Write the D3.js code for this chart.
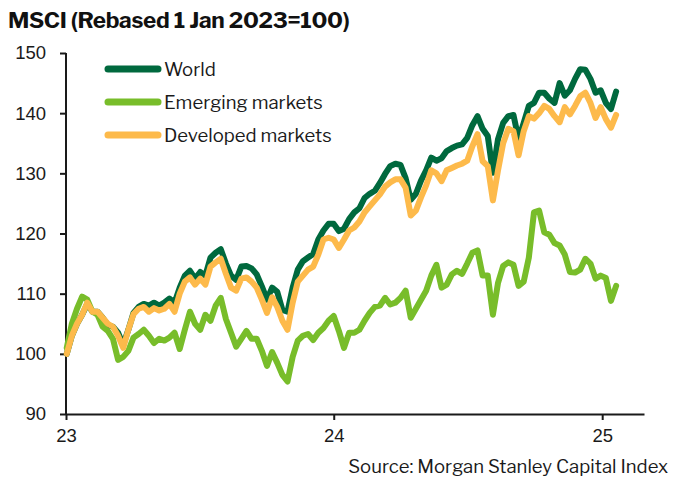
<!DOCTYPE html>
<html>
<head>
<meta charset="utf-8">
<script src="https://cdn.jsdelivr.net/npm/d3@7"></script>
<style>
    body { margin: 0; background: #fff; }
    svg { display: block; font-family: 'Libre Franklin', 'Roboto', sans-serif; }
</style>
</head>
<body>
<div id="chart"></div>
<script>
// weekly readings, Mondays from 2 Jan 2023 to 20 Jan 2025
const startDate = new Date(2023, 0, 2);
const endDate = new Date(2025, 0, 21);

const seriesNames = ['World', 'Emerging markets', 'Developed markets'];
const seriesColors = ['#00693e', '#78bd2a', '#fdba4b'];

const world = [
    100, 103, 105, 106.5, 108.3, 107, 107, 106, 104.8, 104.5,
    103.5, 101.5, 104, 106.8, 107.8, 108.3, 108, 108.5, 108, 108.5,
    109.2, 108.5, 111, 113, 113.8, 112.5, 113.6, 113, 116, 116.8,
    117.4, 115, 113, 112.3, 114.5, 114.6, 114.2, 113.2, 111.2, 109,
    111, 110.3, 107.3, 107, 111, 114, 115.4, 116, 116.6, 119,
    120.5, 121.6, 121.6, 120.4, 120.8, 122.4, 123.5, 124.2, 125.9, 126.6,
    127.1, 128.4, 129.9, 131.2, 131.6, 131.4, 129.2, 125.6, 126.6, 128.8,
    130.5, 132.6, 132.1, 132.5, 133.7, 134.2, 134.6, 134.8, 135.9, 138,
    139.5, 137.4, 136.2, 130.1, 135.7, 138.4, 139.5, 139.7, 135.7, 138.4,
    141.2, 141.7, 143.4, 143.4, 142.4, 141.7, 145, 142.9, 143.8, 145.7,
    147.3, 147.2, 145.7, 143.4, 143.8, 141.7, 140.7, 143.6
];

const emerging = [
    101, 105, 107.5, 109.5, 109, 107, 106.5, 104.5, 103.8, 102.5,
    99, 99.5, 100.5, 102.7, 103.3, 104, 103, 101.8, 102.5, 102.2,
    102.7, 103.5, 100.8, 104, 107, 105, 104, 106.5, 105.5, 108,
    109.3, 105.8, 103.5, 101.2, 102.5, 103.8, 102.5, 102.5, 100.5, 98,
    100.3, 98.5, 96.5, 95.4, 99.5, 102.2, 103, 103.3, 102.3, 103.5,
    104.3, 105.5, 106.3, 103.8, 101, 103.5, 103.5, 104, 105.5, 106.8,
    107.8, 108, 109.3, 108.2, 108.5, 109.3, 110.5, 106, 107.5, 109,
    110.5, 113, 114.8, 111, 111.5, 113.2, 113.8, 113.3, 115, 116.8,
    117.2, 113, 113, 106.5, 111.8, 114.6, 115.2, 114.8, 111.3, 112,
    116, 123.5, 123.8, 120.2, 119.8, 118.4, 118, 116.5, 113.6, 113.5,
    114, 115.8, 115, 112.5, 113, 112.6, 108.8, 111.3
];

const developed = [
    100, 103, 105, 106.5, 108.5, 107, 107, 106, 105, 104.5,
    103, 101, 104, 106.6, 107.5, 107.8, 107, 107.6, 107.2, 107.5,
    108.3, 107, 110, 112, 112.7, 111.5, 112.5, 111.5, 114.5, 115.2,
    115.8, 113.3, 111, 110.5, 112.5, 112.7, 112, 111, 109, 106.8,
    109.4, 107.8, 105.5, 104, 108.5, 112, 113, 114, 114.5, 116.5,
    119, 119.3, 119, 117.6, 119, 120.5, 121, 122, 123.5, 124.5,
    125.5, 126.5, 127.8, 128.5, 129, 129, 127.6, 123, 123.8, 126,
    128, 130.5, 130, 128.7, 130.5, 130.9, 131.3, 131.6, 132.1, 134.5,
    136.5, 132, 131.2, 125.5, 130.5, 135, 137.4, 137, 133, 137,
    139.5, 139.1, 140, 141.2, 140.7, 139.5, 138.5, 141, 139.8, 141.2,
    142.8, 143.4, 141.7, 139.2, 141, 139, 137.6, 139.7
];

const yTicks = [90, 100, 110, 120, 130, 140, 150];
const xTickDates = [new Date(2023, 0, 1), new Date(2024, 0, 1), new Date(2025, 0, 1)];
const xTickLabels = ['23', '24', '25'];

const Chart = {};

Chart.init = function() {
    Chart.width = 674;
    Chart.height = 478;

    Chart.svg = d3.select('#chart').append('svg')
        .attr('width', Chart.width)
        .attr('height', Chart.height);

    Chart.x = d3.scaleTime()
        .domain([new Date(2023, 0, 1), new Date(2025, 1, 27)])
        .range([66, 644]);
    Chart.y = d3.scaleLinear()
        .domain([90, 150])
        .range([414, 53]);

    Chart.dates = d3.timeMonday.range(startDate, endDate);

    Chart.drawAxes();
    Chart.drawLines();
    Chart.drawLegend();
    Chart.drawText();
};

Chart.drawAxes = function() {
    const yAxis = d3.axisLeft(Chart.y)
        .tickValues(yTicks)
        .tickSize(6)
        .tickPadding(14);
    const gy = Chart.svg.append('g')
        .attr('transform', 'translate(66,0)')
        .call(yAxis);

    const xAxis = d3.axisBottom(Chart.x)
        .tickValues(xTickDates)
        .tickFormat((d, i) => xTickLabels[i])
        .tickSize(6)
        .tickSizeOuter(0)
        .tickPadding(9);
    const gx = Chart.svg.append('g')
        .attr('transform', 'translate(0,414)')
        .call(xAxis);

    [gx, gy].forEach(g => {
        g.select('.domain').attr('stroke', '#1a1a1a').attr('stroke-width', 2);
        g.selectAll('.tick line').attr('stroke', '#1a1a1a').attr('stroke-width', 2);
        g.selectAll('.tick text')
            .attr('fill', '#1a1a1a')
            .style('font-size', '18.5px');
    });
    // axisLeft draws an outer tick at the ends, keep just the line
    gy.select('.domain').attr('d', 'M0,' + Chart.y(150) + 'V' + Chart.y(90));
};

Chart.drawLines = function() {
    const data = [world, emerging, developed];
    const line = d3.line()
        .x((d, i) => Chart.x(Chart.dates[i]))
        .y(d => Chart.y(d));

    data.forEach((values, k) => {
        Chart.svg.append('path')
            .datum(values)
            .attr('d', line)
            .attr('fill', 'none')
            .attr('stroke', seriesColors[k])
            .attr('stroke-width', 6)
            .attr('stroke-linejoin', 'round')
            .attr('stroke-linecap', 'round');
    });
};

Chart.drawLegend = function() {
    const g = Chart.svg.append('g');
    seriesNames.forEach((name, k) => {
        const cy = 69 + k * 33;
        g.append('line')
            .attr('x1', 108).attr('x2', 158)
            .attr('y1', cy).attr('y2', cy)
            .attr('stroke', seriesColors[k])
            .attr('stroke-width', 7)
            .attr('stroke-linecap', 'round');
        g.append('text')
            .attr('x', 164)
            .attr('y', cy + 6.5)
            .attr('fill', '#1a1a1a')
            .style('font-size', '18.5px')
            .text(name);
    });
};

Chart.drawText = function() {
    Chart.svg.append('text')
        .attr('x', 8)
        .attr('y', 28)
        .attr('fill', '#111')
        .style('font-size', '22.5px')
        .style('font-weight', 'bold')
        .style('letter-spacing', '-0.3px')
        .text('MSCI (Rebased 1 Jan 2023=100)');

    Chart.svg.append('text')
        .attr('x', 668)
        .attr('y', 473)
        .attr('text-anchor', 'end')
        .attr('fill', '#1a1a1a')
        .style('font-size', '18.5px')
        .text('Source: Morgan Stanley Capital Index');
};

document.addEventListener('DOMContentLoaded', Chart.init);
</script>
</body>
</html>
